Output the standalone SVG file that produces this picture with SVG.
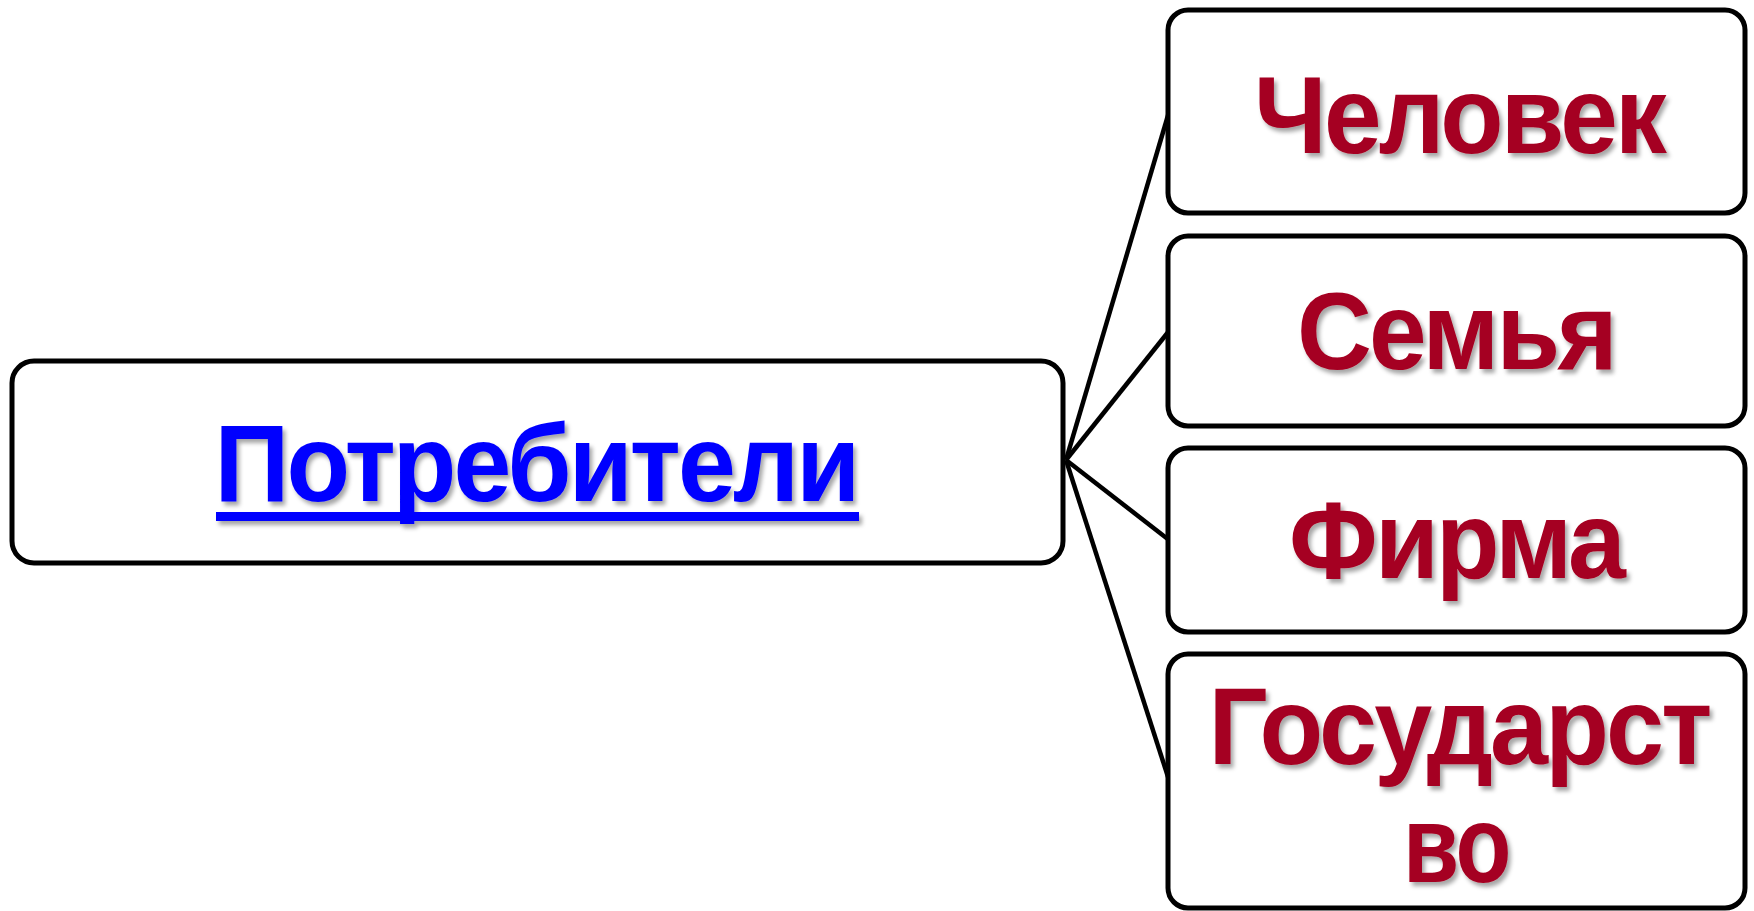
<svg xmlns="http://www.w3.org/2000/svg" width="1754" height="911" viewBox="0 0 1754 911">
<defs>
<filter id="sh" x="-10%" y="-20%" width="120%" height="140%">
<feDropShadow dx="3" dy="4" stdDeviation="2" flood-color="#000" flood-opacity="0.35"/>
</filter>
<style>
.box{fill:#fff;stroke:#000;stroke-width:5}
.conn{stroke:#000;stroke-width:4.5;fill:none}
.t{font-family:"Liberation Sans",Arial,sans-serif;font-weight:bold;text-anchor:middle;filter:url(#sh);letter-spacing:-3px}
.red{fill:#A50021;font-size:110px}
.blue{fill:#0000FF;font-size:110px}
</style>
</defs>
<rect width="1754" height="911" fill="#fff"/>
<g id="connectors">
<line class="conn" x1="1066" y1="460" x2="1169" y2="112"/>
<line class="conn" x1="1066" y1="460" x2="1169" y2="331"/>
<line class="conn" x1="1066" y1="460" x2="1169" y2="540"/>
<line class="conn" x1="1066" y1="460" x2="1169" y2="780"/>
</g>
<g id="consumers">
<rect class="box" x="12" y="361" width="1051" height="202" rx="22"/>
<g filter="url(#sh)">
<text class="t blue" x="536" y="501" textLength="643" lengthAdjust="spacingAndGlyphs" style="filter:none">Потребители</text>
<rect x="216" y="512" width="643" height="9" fill="#0000FF"/>
</g>
</g>
<g id="person">
<rect class="box" x="1168" y="10" width="577" height="203" rx="20"/>
<text class="t red" x="1459" y="153" textLength="410" lengthAdjust="spacingAndGlyphs">Человек</text>
</g>
<g id="family">
<rect class="box" x="1168" y="236" width="577" height="190" rx="20"/>
<text class="t red" x="1456" y="369" textLength="318" lengthAdjust="spacingAndGlyphs">Семья</text>
</g>
<g id="firm">
<rect class="box" x="1168" y="448" width="577" height="184" rx="20"/>
<text class="t red" x="1456" y="578" textLength="334" lengthAdjust="spacingAndGlyphs">Фирма</text>
</g>
<g id="state">
<rect class="box" x="1168" y="654" width="577" height="254" rx="20"/>
<text class="t red" x="1459" y="764" textLength="501" lengthAdjust="spacingAndGlyphs">Государст</text>
<text class="t red" x="1456" y="882" textLength="106" lengthAdjust="spacingAndGlyphs">во</text>
</g>
</svg>
